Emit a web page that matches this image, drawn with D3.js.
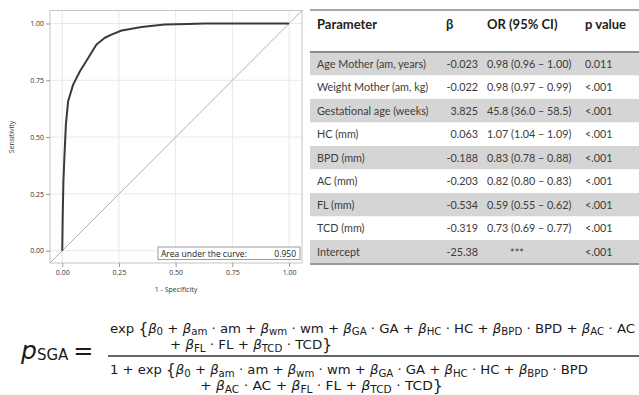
<!DOCTYPE html>
<html>
<head>
<meta charset="utf-8">
<script src="https://cdn.jsdelivr.net/npm/d3@7"></script>
<style>
  body { margin: 0; background: #fff; }
  svg { display: block; }
</style>
</head>
<body>
<div id="chart"></div>
<script>
// ROC curve
const rocFpr = [0, 0.002, 0.005, 0.009, 0.012, 0.016, 0.026, 0.048, 0.078, 0.115, 0.151, 0.188, 0.222, 0.262, 0.3, 0.35, 0.4, 0.452, 0.55, 0.629, 0.8, 1];
const rocTpr = [0, 0.15, 0.3, 0.4, 0.467, 0.555, 0.658, 0.731, 0.79, 0.849, 0.907, 0.937, 0.953, 0.969, 0.976, 0.984, 0.99, 0.995, 0.998, 1, 1, 1];
const axisTicks = [0, 0.25, 0.5, 0.75, 1];
const aucLabel = "Area under the curve:";
const aucValue = "0.950";

// table
const headers = ["Parameter", "β", "OR (95% CI)", "p value"];
const params = ["Age Mother (am, years)", "Weight Mother (am, kg)", "Gestational age (weeks)", "HC (mm)", "BPD (mm)", "AC (mm)", "FL (mm)", "TCD (mm)", "Intercept"];
const betas = ["-0.023", "-0.022", "3.825", "0.063", "-0.188", "-0.203", "-0.534", "-0.319", "-25.38"];
const ors = ["0.98 (0.96 – 1.00)", "0.98 (0.97 – 0.99)", "45.8 (36.0 – 58.5)", "1.07 (1.04 – 1.09)", "0.83 (0.78 – 0.88)", "0.82 (0.80 – 0.83)", "0.59 (0.55 – 0.62)", "0.73 (0.69 – 0.77)", "***"];
const pvals = ["0.011", "<.001", "<.001", "<.001", "<.001", "<.001", "<.001", "<.001", "<.001"];

// formula lines
const num1 = "exp {β_0 + β_am · am + β_wm · wm + β_GA · GA + β_HC · HC + β_BPD · BPD + β_AC · AC";
const num2 = "+ β_FL · FL + β_TCD · TCD}";
const den1 = "1 + exp {β_0 + β_am · am + β_wm · wm + β_GA · GA + β_HC · HC + β_BPD · BPD";
const den2 = "+ β_AC · AC + β_FL · FL + β_TCD · TCD}";

const width = 639, height = 395;

const svg = d3.select("#chart").append("svg")
  .attr("width", width)
  .attr("height", height);

svg.append("rect").attr("width", width).attr("height", height).attr("fill", "#fff");

// ---- ROC plot ----
const x = d3.scaleLinear().domain([-0.054, 1.057]).range([50, 302]);
const y = d3.scaleLinear().domain([-0.054, 1.057]).range([263, 10.5]);

// grid
svg.append("g")
  .selectAll("line")
  .data(axisTicks)
  .enter().append("line")
  .attr("x1", d => x(d)).attr("x2", d => x(d))
  .attr("y1", y.range()[0]).attr("y2", y.range()[1])
  .attr("stroke", "#e8e8e8");

svg.append("g")
  .selectAll("line")
  .data(axisTicks)
  .enter().append("line")
  .attr("y1", d => y(d)).attr("y2", d => y(d))
  .attr("x1", x.range()[0]).attr("x2", x.range()[1])
  .attr("stroke", "#e8e8e8");

// diagonal
svg.append("line")
  .attr("x1", x(-0.054)).attr("y1", y(-0.054))
  .attr("x2", x(1.057)).attr("y2", y(1.057))
  .attr("stroke", "#b0b0b0")
  .attr("stroke-width", 1);

// frame
svg.append("rect")
  .attr("x", 50).attr("y", 10.5)
  .attr("width", 252).attr("height", 252.5)
  .attr("fill", "none")
  .attr("stroke", "#c4c4c4");

const xAxis = d3.axisBottom(x).tickValues(axisTicks).tickFormat(d3.format(".2f")).tickSize(4).tickPadding(3);
const yAxis = d3.axisLeft(y).tickValues(axisTicks).tickFormat(d3.format(".2f")).tickSize(4).tickPadding(2);

const gx = svg.append("g").attr("transform", "translate(0,263)").call(xAxis);
const gy = svg.append("g").attr("transform", "translate(50,0)").call(yAxis);

[gx, gy].forEach(g => {
  g.select(".domain").remove();
  g.selectAll("line").attr("stroke", "#999");
  g.selectAll("text")
    .attr("fill", "#333")
    .style("font-family", "Open Sans, sans-serif")
    .style("font-size", "7px");
});

svg.append("text")
  .attr("transform", "translate(14,137) rotate(-90)")
  .attr("text-anchor", "middle")
  .attr("fill", "#333")
  .style("font-family", "Open Sans, sans-serif")
  .style("font-size", "7px")
  .text("Sensitivity");

svg.append("text")
  .attr("x", 176).attr("y", 292)
  .attr("text-anchor", "middle")
  .attr("fill", "#333")
  .style("font-family", "Open Sans, sans-serif")
  .style("font-size", "7px")
  .text("1 - Specificity");

// roc curve
const rocLine = d3.line()
  .x((d, i) => x(rocFpr[i]))
  .y(d => y(d));

svg.append("path")
  .datum(rocTpr)
  .attr("d", rocLine)
  .attr("fill", "none")
  .attr("stroke", "#3a3a3a")
  .attr("stroke-width", 2)
  .attr("stroke-linejoin", "round");

// AUC box
svg.append("rect")
  .attr("x", 158).attr("y", 247)
  .attr("width", 142).attr("height", 12.5)
  .attr("fill", "#fff")
  .attr("stroke", "#9a9a9a");

svg.append("text")
  .attr("x", 161).attr("y", 256.5)
  .attr("fill", "#222")
  .style("font-family", "Open Sans, sans-serif")
  .style("font-size", "8.5px")
  .text(aucLabel);

svg.append("text")
  .attr("x", 296).attr("y", 256.5)
  .attr("text-anchor", "end")
  .attr("fill", "#222")
  .style("font-family", "Open Sans, sans-serif")
  .style("font-size", "8.5px")
  .text(aucValue);

// ---- table ----
const rowY = d3.scaleBand().domain(d3.range(params.length)).range([52, 263.5]);
const tableLeft = 310, tableRight = 639;

svg.append("g")
  .selectAll("rect")
  .data(params)
  .enter().append("rect")
  .attr("x", tableLeft)
  .attr("y", (d, i) => rowY(i))
  .attr("width", tableRight - tableLeft)
  .attr("height", rowY.bandwidth())
  .attr("fill", (d, i) => i % 2 === 0 ? "#d5d5d5" : "#fff");

svg.append("line")
  .attr("x1", tableLeft).attr("x2", tableRight)
  .attr("y1", 10).attr("y2", 10)
  .attr("stroke", "#8a8a8a").attr("stroke-width", 1.5);
svg.append("line")
  .attr("x1", tableLeft).attr("x2", tableRight)
  .attr("y1", 52).attr("y2", 52)
  .attr("stroke", "#8a8a8a").attr("stroke-width", 2);
svg.append("line")
  .attr("x1", tableLeft).attr("x2", tableRight)
  .attr("y1", 264).attr("y2", 264)
  .attr("stroke", "#7a7a7a").attr("stroke-width", 1.5);

const headX = [317, 446, 487, 585];
svg.append("g")
  .selectAll("text")
  .data(headers)
  .enter().append("text")
  .attr("x", (d, i) => headX[i])
  .attr("y", 28.5)
  .attr("fill", "#1c1c1c")
  .style("font-family", "Lato, sans-serif")
  .style("font-weight", "bold")
  .style("font-size", "13px")
  .text(d => d);

const cellFont = g => g
  .attr("fill", "#3c3c3c")
  .style("font-family", "Lato, sans-serif")
  .style("font-size", "10.8px");

const rowText = (i) => rowY(i) + rowY.bandwidth() / 2 + 3.8;

svg.append("g").selectAll("text").data(params).enter().append("text")
  .attr("x", 317).attr("y", (d, i) => rowText(i))
  .call(cellFont).text(d => d);

svg.append("g").selectAll("text").data(betas).enter().append("text")
  .attr("x", 478).attr("y", (d, i) => rowText(i))
  .attr("text-anchor", "end")
  .call(cellFont).text(d => d);

svg.append("g").selectAll("text").data(ors).enter().append("text")
  .attr("x", d => d === "***" ? 517 : 487)
  .attr("y", (d, i) => rowText(i) + (d === "***" ? 1 : 0))
  .attr("text-anchor", d => d === "***" ? "middle" : "start")
  .call(cellFont).text(d => d);

svg.append("g").selectAll("text").data(pvals).enter().append("text")
  .attr("x", 585).attr("y", (d, i) => rowText(i))
  .call(cellFont).text(d => d);

// ---- formula ----
const mathFont = "DejaVu Sans, sans-serif";

function drawMath(str, x0, y0, len) {
  const t = svg.append("text")
    .attr("x", x0).attr("y", y0)
    .attr("fill", "#1a1a1a")
    .style("font-family", mathFont)
    .style("font-size", "13px");
  if (len) t.attr("textLength", len).attr("lengthAdjust", "spacingAndGlyphs");
  let cur = 0;
  const add = (txt, off, attrs) => {
    const s = t.append("tspan").attr("dy", off - cur).text(txt);
    cur = off;
    Object.entries(attrs || {}).forEach(([k, v]) => s.style(k, v));
  };
  str.split(/(β_\w+|[{}])/).filter(s => s).forEach(part => {
    if (part.startsWith("β_")) {
      add("β", 0, { "font-style": "italic" });
      add(part.slice(2), 2.5, { "font-size": "10px" });
    } else if (part === "{" || part === "}") {
      add(part, 1, { "font-size": "15px" });
    } else {
      add(part, 0);
    }
  });
}

drawMath(num1, 110, 332.5, 525);
drawMath(num2, 170, 349, 162);
drawMath(den1, 110, 374, 478);
drawMath(den2, 200, 390, 243);

svg.append("line")
  .attr("x1", 108).attr("x2", 639)
  .attr("y1", 356).attr("y2", 356)
  .attr("stroke", "#333").attr("stroke-width", 1.5);

const lhs = svg.append("text")
  .attr("x", 21).attr("y", 359)
  .attr("fill", "#1a1a1a")
  .style("font-family", mathFont);
lhs.append("tspan").style("font-style", "italic").style("font-size", "25px").text("p");
lhs.append("tspan").attr("dy", 1).style("font-size", "15px").text("SGA");
lhs.append("tspan").attr("dy", -1).attr("dx", 5).style("font-size", "24px").text("=");
</script>
</body>
</html>
